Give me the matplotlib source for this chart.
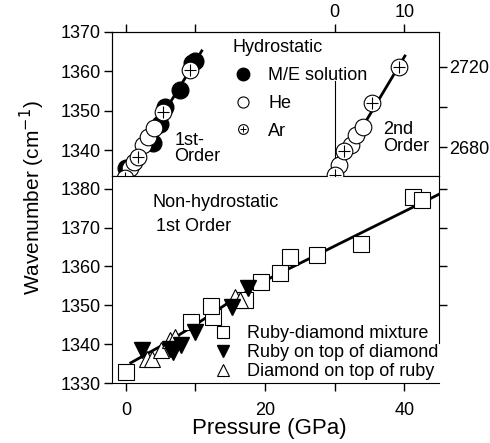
import matplotlib.pyplot as plt
import numpy as np
from matplotlib.lines import Line2D

plt.rcParams['font.family'] = ['Liberation Sans', 'DejaVu Sans']
plt.rcParams['font.size'] = 13

# hydrostatic, 1st order (GPa, cm-1)
me_p = [0.0, 3.9, 4.9, 5.6, 7.8, 9.5, 9.9]
me_w = [1335.5, 1341.8, 1346.6, 1351.0, 1355.2, 1362.0, 1362.5]
he1_p = [0.6, 1.2, 2.5, 3.2, 4.0]
he1_w = [1335.5, 1337.0, 1341.2, 1343.4, 1345.5]
ar1_p = [-0.2, 1.8, 5.4, 9.2]
ar1_w = [1333.0, 1338.3, 1349.7, 1360.3]
fit1_p = [-0.3, 10.9]
fit1_w = [1332.8, 1365.2]

# hydrostatic, 2nd order
he2_p = [0.6, 2.3, 3.0, 4.1]
he2_w = [2671, 2681, 2686, 2690.2]
ar2_p = [0.0, 1.3, 5.3, 9.3]
ar2_w = [2665.8, 2678.2, 2701.8, 2719.8]
fit2_p = [-0.3, 10.1]
fit2_w = [2665, 2725.5]
offset2 = 30  # 2nd-order pressure scale is shifted

# non-hydrostatic, 1st order
sq_p = [0.0, 9.4, 12.5, 12.3, 17.1, 19.4, 22.2, 23.6, 27.5, 33.8, 41.3, 42.5]
sq_w = [1332.9, 1345.8, 1347.1, 1349.8, 1351.4, 1355.9, 1358.2, 1362.5, 1362.9, 1365.8, 1378.0, 1377.0]
dn_p = [2.3, 6.3, 6.8, 7.9, 9.9, 15.2, 17.6]
dn_w = [1338.5, 1338.7, 1338.1, 1339.8, 1343.2, 1349.6, 1354.4]
up_p = [3.1, 3.7, 5.1, 6.3, 7.0, 15.7, 16.4]
up_w = [1336.1, 1336.3, 1338.5, 1341.2, 1341.9, 1352.2, 1351.4]
fitn_p = [0.7, 5.0, 10.0, 15.0, 20.7, 45.0]
fitn_w = [1335.2, 1339.5, 1345.0, 1351.0, 1357.0, 1378.6]

fig = plt.figure(figsize=(4.9, 4.43), dpi=100)
ax_top = fig.add_axes([0.2286, 0.6027, 0.6673, 0.3251])
ax_bot = fig.add_axes([0.2286, 0.1354, 0.6673, 0.4673])

ms = 12

# ---- top panel
ax_top.plot(fit1_p, fit1_w, color='k', lw=2, zorder=1)
ax_top.plot(me_p, me_w, 'o', mfc='k', mec='k', ms=ms, zorder=2)
ax_top.plot(he1_p, he1_w, 'o', mfc='white', mec='k', mew=0.8, ms=ms, zorder=3)
ax_top.plot(ar1_p, ar1_w, 'o', mfc='white', mec='k', mew=0.8, ms=ms, zorder=4)
ax_top.plot(ar1_p, ar1_w, '+', color='k', mew=0.8, ms=8, zorder=5)
ax_top.set_xlim(-2, 45)
ax_top.set_ylim(1333.4, 1370)
ax_top.set_yticks([1340, 1350, 1360, 1370])
ax_top.xaxis.tick_top()
ax_top.set_xticks([0, 10, 30, 40])
ax_top.set_xticklabels(['', '', '0', '10'])
ax_top.tick_params(direction='out', length=6, width=1, pad=2)
ax_top.spines['right'].set_visible(False)
ax_top.axvline(offset2, ymin=0, ymax=0.66, color='k', lw=0.8)

ax2 = ax_top.twinx()
ax2.plot(np.array(fit2_p) + offset2, fit2_w, color='k', lw=2, zorder=1)
ax2.plot(np.array(he2_p) + offset2, he2_w, 'o', mfc='white', mec='k', mew=0.8, ms=ms, zorder=3)
ax2.plot(np.array(ar2_p) + offset2, ar2_w, 'o', mfc='white', mec='k', mew=0.8, ms=ms, zorder=4)
ax2.plot(np.array(ar2_p) + offset2, ar2_w, '+', color='k', mew=0.8, ms=8, zorder=5)
ax2.set_ylim(2665.5, 2737.5)
ax2.set_yticks([2680, 2700, 2720])
ax2.set_yticklabels(['2680', '', '2720'])
ax2.tick_params(direction='out', length=6, width=1, pad=1)
ax2.set_xlim(-2, 45)

ax_top.text(0.19, 0.19, '1st-\nOrder', transform=ax_top.transAxes,
            ha='left', va='center', linespacing=0.95)
ax_top.text(0.83, 0.265, '2nd\nOrder', transform=ax_top.transAxes,
            ha='left', va='center', linespacing=0.95)

h_me = Line2D([], [], marker='o', ls='none', mfc='k', mec='k', ms=9)
h_he = Line2D([], [], marker='o', ls='none', mfc='white', mec='k', mew=0.8, ms=8)
h_ar_c = Line2D([], [], marker='o', ls='none', mfc='white', mec='k', mew=0.8, ms=7)
h_ar_p = Line2D([], [], marker='+', ls='none', color='k', mew=0.7, ms=5)
leg1 = ax2.legend([h_me, h_he, (h_ar_c, h_ar_p)], ['M/E solution', 'He', 'Ar'],
                  title='Hydrostatic', loc='upper left', bbox_to_anchor=(0.345, 1.0),
                  frameon=False, handlelength=1.2, handletextpad=0.8,
                  labelspacing=0.6, borderaxespad=0)
leg1.get_title().set_fontsize(13)
leg1._legend_box.align = 'left'

# ---- bottom panel
ax_bot.plot(fitn_p, fitn_w, color='k', lw=2, zorder=1)
ax_bot.plot(sq_p, sq_w, 's', mfc='white', mec='k', mew=0.8, ms=ms, zorder=2)
ax_bot.plot(up_p, up_w, '^', mfc='white', mec='k', mew=0.8, ms=ms, zorder=3)
ax_bot.plot(dn_p, dn_w, 'v', mfc='k', mec='k', ms=ms, zorder=4)
ax_bot.set_xlim(-2, 45)
ax_bot.set_ylim(1330, 1383.3)
ax_bot.set_xticks([0, 10, 20, 30, 40])
ax_bot.set_xticklabels(['0', '', '20', '', '40'])
ax_bot.set_yticks([1330, 1340, 1350, 1360, 1370, 1380])
ax_bot.tick_params(direction='out', length=6, width=1, pad=2)
ax_bot.tick_params(axis='x', pad=8)
ax_bot.spines['top'].set_visible(False)
ax_bot.spines['right'].set_bounds(1340.2, 1383.3)

axr = ax_bot.twinx()
axr.set_ylim(1330, 1383.3)
axr.set_yticks([1350, 1360, 1370, 1380])
axr.set_yticklabels([])
axr.tick_params(direction='out', length=6, width=1)
for s in axr.spines.values():
    s.set_visible(False)

ax_bot.text(0.125, 0.874, 'Non-hydrostatic', transform=ax_bot.transAxes, ha='left', va='center')
ax_bot.text(0.135, 0.754, '1st Order', transform=ax_bot.transAxes, ha='left', va='center')

h_sq = Line2D([], [], marker='s', ls='none', mfc='white', mec='k', mew=0.8, ms=8)
h_dn = Line2D([], [], marker='v', ls='none', mfc='k', mec='k', ms=9)
h_up = Line2D([], [], marker='^', ls='none', mfc='white', mec='k', mew=0.8, ms=9)
ax_bot.legend([h_sq, h_dn, h_up],
              ['Ruby-diamond mixture', 'Ruby on top of diamond', 'Diamond on top of ruby'],
              loc='lower left', bbox_to_anchor=(0.29, -0.02), frameon=False,
              handlelength=1.0, handletextpad=0.8, labelspacing=0.1, borderaxespad=0)

fig.text(0.066, 0.554, 'Wavenumber (cm$^{-1}$)', rotation=90, ha='center', va='center', fontsize=15)
fig.text(0.55, 0.032, 'Pressure (GPa)', ha='center', va='center', fontsize=16)

fig.savefig('out.png', dpi=100)
